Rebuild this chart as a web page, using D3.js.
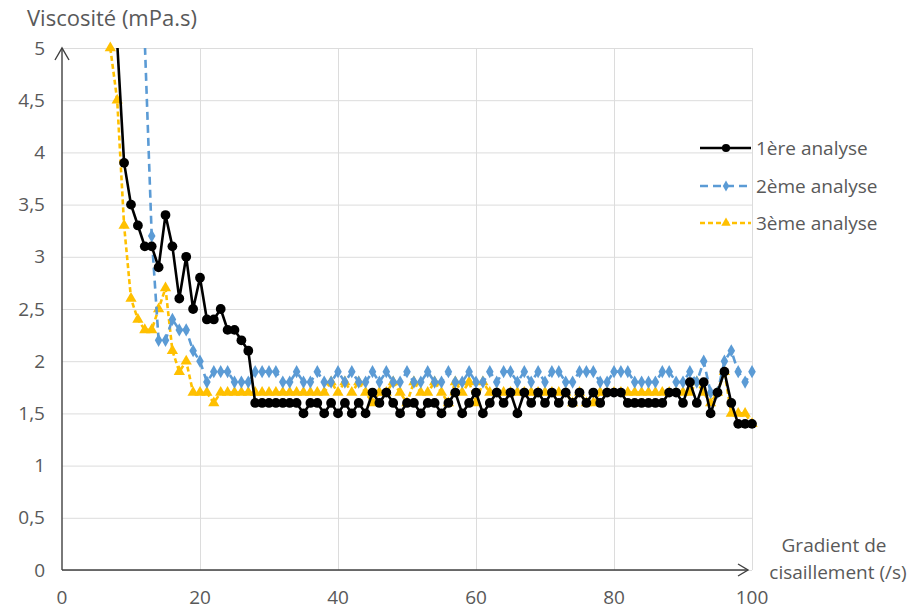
<!DOCTYPE html>
<html>
<head>
<meta charset="utf-8">
<script src="https://cdn.jsdelivr.net/npm/d3@7"></script>
<style>
  body { margin: 0; background: #fff; }
  text { font-family: "Open Sans", sans-serif; fill: #595959; }
</style>
</head>
<body>
<div id="chart"></div>
<script>
// values, one per gradient step
var gradient = [7, 8, 9, 10, 11, 12, 13, 14, 15, 16,
  17, 18, 19, 20, 21, 22, 23, 24, 25, 26,
  27, 28, 29, 30, 31, 32, 33, 34, 35, 36,
  37, 38, 39, 40, 41, 42, 43, 44, 45, 46,
  47, 48, 49, 50, 51, 52, 53, 54, 55, 56,
  57, 58, 59, 60, 61, 62, 63, 64, 65, 66,
  67, 68, 69, 70, 71, 72, 73, 74, 75, 76,
  77, 78, 79, 80, 81, 82, 83, 84, 85, 86,
  87, 88, 89, 90, 91, 92, 93, 94, 95, 96,
  97, 98, 99, 100];

var analyse1 = [7.5, 5.05, 3.9, 3.5, 3.3, 3.1, 3.1, 2.9, 3.4, 3.1,
  2.6, 3.0, 2.5, 2.8, 2.4, 2.4, 2.5, 2.3, 2.3, 2.2,
  2.1, 1.6, 1.6, 1.6, 1.6, 1.6, 1.6, 1.6, 1.5, 1.6,
  1.6, 1.5, 1.6, 1.5, 1.6, 1.5, 1.6, 1.5, 1.7, 1.6,
  1.7, 1.6, 1.5, 1.6, 1.6, 1.5, 1.6, 1.6, 1.5, 1.6,
  1.7, 1.5, 1.6, 1.7, 1.5, 1.6, 1.7, 1.6, 1.7, 1.5,
  1.7, 1.6, 1.7, 1.6, 1.7, 1.6, 1.7, 1.6, 1.7, 1.6,
  1.7, 1.6, 1.7, 1.7, 1.7, 1.6, 1.6, 1.6, 1.6, 1.6,
  1.6, 1.7, 1.7, 1.6, 1.8, 1.6, 1.8, 1.5, 1.7, 1.9,
  1.6, 1.4, 1.4, 1.4];

var analyse2 = [null, null, null, null, 7.5, 5.06, 3.2, 2.2, 2.2, 2.4,
  2.3, 2.3, 2.1, 2.0, 1.8, 1.9, 1.9, 1.9, 1.8, 1.8,
  1.8, 1.9, 1.9, 1.9, 1.9, 1.8, 1.8, 1.9, 1.8, 1.8,
  1.9, 1.8, 1.8, 1.9, 1.8, 1.9, 1.8, 1.8, 1.9, 1.8,
  1.9, 1.8, 1.8, 1.9, 1.8, 1.8, 1.9, 1.8, 1.8, 1.9,
  1.8, 1.8, 1.9, 1.8, 1.8, 1.9, 1.8, 1.9, 1.9, 1.8,
  1.9, 1.8, 1.9, 1.8, 1.9, 1.9, 1.8, 1.8, 1.9, 1.9,
  1.9, 1.8, 1.8, 1.9, 1.9, 1.9, 1.8, 1.8, 1.8, 1.8,
  1.9, 1.9, 1.8, 1.8, 1.9, 1.8, 2.0, 1.7, 1.7, 2.0,
  2.1, 1.9, 1.8, 1.9];

var analyse3 = [5.0, 4.5, 3.3, 2.6, 2.4, 2.3, 2.3, 2.5, 2.7, 2.1,
  1.9, 2.0, 1.7, 1.7, 1.7, 1.6, 1.7, 1.7, 1.7, 1.7,
  1.7, 1.7, 1.7, 1.7, 1.7, 1.7, 1.7, 1.7, 1.7, 1.7,
  1.7, 1.7, 1.8, 1.7, 1.8, 1.7, 1.8, 1.7, 1.6, 1.7,
  1.7, 1.8, 1.7, 1.6, 1.8, 1.7, 1.7, 1.8, 1.7, 1.6,
  1.8, 1.7, 1.8, 1.6, 1.8, 1.7, 1.7, 1.7, 1.7, 1.7,
  1.7, 1.7, 1.7, 1.7, 1.7, 1.7, 1.7, 1.6, 1.7, 1.6,
  1.6, 1.7, 1.7, 1.7, 1.7, 1.7, 1.7, 1.7, 1.7, 1.7,
  1.7, 1.7, 1.7, 1.7, 1.7, 1.8, 1.7, 1.6, 1.7, 1.9,
  1.5, 1.5, 1.5, 1.4];

var seriesNames = ["1ère analyse", "2ème analyse", "3ème analyse"];
var xTicks = [0, 20, 40, 60, 80, 100];
var yTicks = [0, 0.5, 1, 1.5, 2, 2.5, 3, 3.5, 4, 4.5, 5];


// General settings
var chartWidth = 911;
var chartHeight = 610;
var plotLeft = 62, plotRight = 752, plotTop = 48, plotBottom = 570;
var labelSize = "19px";

var svg = d3.select("#chart")
  .append("svg")
  .attr("width", chartWidth)
  .attr("height", chartHeight);

var x = d3.scaleLinear().domain([0, 100]).range([plotLeft, plotRight]);
var y = d3.scaleLinear().domain([0, 5]).range([plotBottom, plotTop]);

var fmt = function (d) { return String(d).replace(".", ","); };

svg.append("defs").append("clipPath")
  .attr("id", "plot-clip")
  .append("rect")
  .attr("x", plotLeft).attr("y", plotTop)
  .attr("width", plotRight - plotLeft).attr("height", plotBottom - plotTop);

// grid
svg.append("g")
  .attr("class", "grid-y")
  .attr("transform", "translate(" + plotLeft + ",0)")
  .call(d3.axisLeft(y).tickValues(yTicks).tickSize(-(plotRight - plotLeft)).tickFormat(""))
  .call(g => g.select(".domain").remove())
  .call(g => g.selectAll("line").attr("stroke", "#dcdcdc").attr("stroke-width", 1));

svg.append("g")
  .attr("class", "grid-x")
  .attr("transform", "translate(0," + plotBottom + ")")
  .call(d3.axisBottom(x).tickValues(xTicks.slice(1)).tickSize(-(plotBottom - plotTop)).tickFormat(""))
  .call(g => g.select(".domain").remove())
  .call(g => g.selectAll("line").attr("stroke", "#dcdcdc").attr("stroke-width", 1));

// tick labels
svg.append("g")
  .selectAll("text")
  .data(yTicks)
  .enter()
  .append("text")
  .attr("x", 45)
  .attr("y", d => y(d))
  .attr("dy", "0.35em")
  .attr("text-anchor", "end")
  .style("font-size", labelSize)
  .text(fmt);

svg.append("g")
  .selectAll("text")
  .data(xTicks)
  .enter()
  .append("text")
  .attr("x", d => x(d))
  .attr("y", 597)
  .attr("dy", "0.35em")
  .attr("text-anchor", "middle")
  .style("font-size", labelSize)
  .text(d => d);

// axes with arrows
var axisColor = "#404040";
svg.append("line")
  .attr("x1", plotLeft).attr("x2", plotLeft)
  .attr("y1", plotBottom).attr("y2", plotTop)
  .attr("stroke", axisColor).attr("stroke-width", 1.4);
svg.append("path")
  .attr("d", "M" + (plotLeft - 7) + "," + (plotTop + 12) + "L" + plotLeft + "," + plotTop + "L" + (plotLeft + 7) + "," + (plotTop + 12))
  .attr("fill", "none").attr("stroke", axisColor).attr("stroke-width", 1.4);

svg.append("line")
  .attr("x1", plotLeft).attr("x2", 748)
  .attr("y1", plotBottom).attr("y2", plotBottom)
  .attr("stroke", axisColor).attr("stroke-width", 1.4);
svg.append("path")
  .attr("d", "M738," + (plotBottom - 6) + "L748," + plotBottom + "L738," + (plotBottom + 6))
  .attr("fill", "none").attr("stroke", axisColor).attr("stroke-width", 1.4);

// axis titles
svg.append("text")
  .attr("x", 27).attr("y", 26)
  .style("font-size", "22px")
  .text("Viscosité (mPa.s)");

svg.append("text")
  .attr("x", 834).attr("y", 552)
  .attr("text-anchor", "middle")
  .style("font-size", labelSize)
  .text("Gradient de");
svg.append("text")
  .attr("x", 838).attr("y", 579)
  .attr("text-anchor", "middle")
  .style("font-size", labelSize)
  .text("cisaillement (/s)");

// series
var series = [
  { name: seriesNames[0], values: analyse1, color: "#000000", dash: null, width: 2.6, symbol: d3.symbolCircle, size: 75 },
  { name: seriesNames[1], values: analyse2, color: "#5B9BD5", dash: "8,5", width: 2.6, symbol: d3.symbolDiamond, size: 50 },
  { name: seriesNames[2], values: analyse3, color: "#FFC000", dash: "5,3", width: 2.6, symbol: d3.symbolTriangle, size: 55 }
];

var line = d3.line()
  .defined(d => d.v !== null)
  .x(d => x(d.g))
  .y(d => y(d.v));

series.slice().reverse().forEach(function (s) {
  var pts = gradient.map(function (g, i) { return { g: g, v: s.values[i] }; });

  var seriesG = svg.append("g").attr("class", "series");

  seriesG.append("path")
    .datum(pts)
    .attr("clip-path", "url(#plot-clip)")
    .attr("fill", "none")
    .attr("stroke", s.color)
    .attr("stroke-width", s.width)
    .attr("stroke-dasharray", s.dash)
    .attr("stroke-linejoin", "round")
    .attr("d", line);

  seriesG.selectAll(".marker")
    .data(pts.filter(d => d.v !== null && d.v <= 5))
    .enter()
    .append("path")
    .attr("class", "marker")
    .attr("transform", d => "translate(" + x(d.g) + "," + y(d.v) + ")")
    .attr("d", d3.symbol().type(s.symbol).size(s.size))
    .attr("fill", s.color);
});

// legend
var legendY = [148, 186, 223];
var legend = svg.append("g").attr("class", "legend");
series.forEach(function (s, i) {
  legend.append("line")
    .attr("x1", 700).attr("x2", 751)
    .attr("y1", legendY[i]).attr("y2", legendY[i])
    .attr("stroke", s.color)
    .attr("stroke-width", s.width)
    .attr("stroke-dasharray", s.dash);
  legend.append("path")
    .attr("transform", "translate(726," + legendY[i] + ")")
    .attr("d", d3.symbol().type(s.symbol).size(s.size * 0.7))
    .attr("fill", s.color);
  legend.append("text")
    .attr("x", 756)
    .attr("y", legendY[i])
    .attr("dy", "0.35em")
    .style("font-size", labelSize)
    .text(s.name);
});
</script>
</body>
</html>
